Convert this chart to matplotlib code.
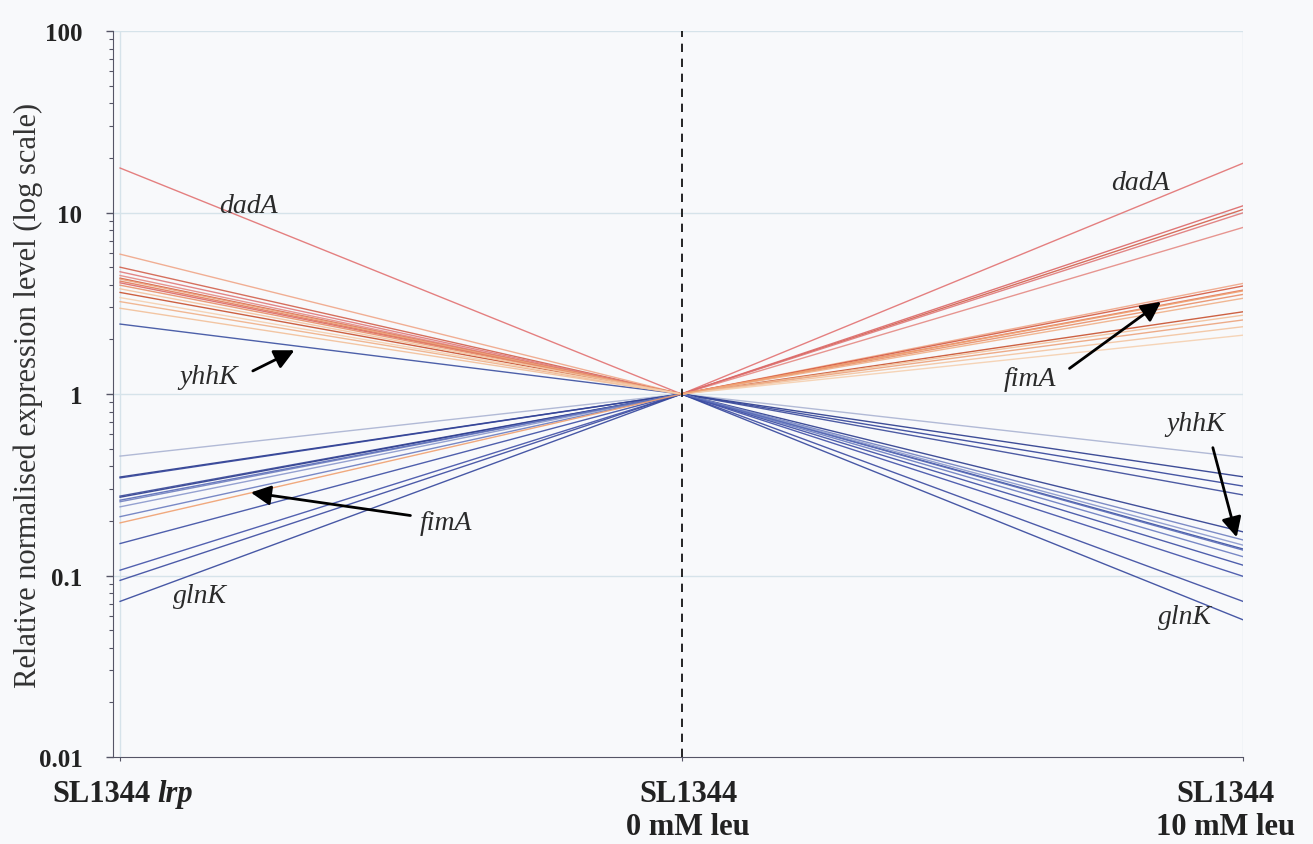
import matplotlib
matplotlib.use("Agg")
import matplotlib.pyplot as plt

# conditions on the x axis
conditions = ["SL1344 lrp", "SL1344\n0 mM leu", "SL1344\n10 mM leu"]

# relative expression (0 mM leu = 1) for each gene
up_lrp = [17.6, 5.0, 4.72, 4.5, 4.1, 5.9, 4.35, 4.19, 3.98, 3.63, 3.23, 2.97, 4.3, 3.8, 3.4, 0.195]
up_leu = [18.7, 10.4, 9.97, 8.28, 10.9, 4.07, 3.94, 3.74, 3.54, 2.84, 3.37, 2.72, 2.56, 2.35, 2.11, 3.7]
up_col = ["#e27272", "#d2604c", "#e07a7a", "#e58a84", "#dc6868", "#f0a688", "#d45a40", "#e27a5a",
          "#e8906a", "#c8502e", "#f0b088", "#f2c09a", "#eca37c", "#f3c4a0", "#f5d0b0", "#f0a070"]

down_lrp = [2.43, 0.455, 0.349, 0.345, 0.274, 0.27, 0.255, 0.239, 0.211, 0.150, 0.107, 0.094, 0.072, 0.26]
down_leu = [0.14, 0.448, 0.35, 0.311, 0.278, 0.174, 0.157, 0.147, 0.127, 0.114, 0.099, 0.072, 0.057, 0.138]
down_col = ["#3a4fa0", "#aab3d2", "#2a3a8c", "#33449a", "#3a4a9a", "#2c3c8e", "#7080c0", "#8a98cc",
            "#6a7cc0", "#3c4ea4", "#4050a8", "#3a4aa0", "#34469c", "#5a6cb8"]

bg = "#f8f9fb"
serif = "Liberation Serif"

fig = plt.figure(figsize=(13.13, 8.45), dpi=100, facecolor=bg)
ax = fig.add_axes([0.0861, 0.103, 0.8606, 0.859], facecolor=bg)

ax.set_yscale("log")
ax.set_ylim(0.01, 100)
ax.set_xlim(-0.0125, 2.0)

# light grid
for v in [0.1, 1, 10, 100]:
    ax.axhline(v, color="#d6e3ea", lw=1, zorder=0)
for xv in [0, 2]:
    ax.axvline(xv, color="#d6e3ea", lw=1, zorder=0)

for a, b, c in zip(down_lrp, down_leu, down_col):
    ax.plot([0, 1, 2], [a, 1, b], color=c, lw=1.0, alpha=0.9, zorder=2)
for a, b, c in zip(up_lrp, up_leu, up_col):
    ax.plot([0, 1, 2], [a, 1, b], color=c, lw=1.0, alpha=0.9, zorder=3)

ax.axvline(1, color="black", lw=1.2, ls=(0, (5, 4)), zorder=4)

# axes styling
for s in ["top", "right"]:
    ax.spines[s].set_visible(False)
ax.spines["left"].set_color("#555566")
ax.spines["bottom"].set_color("#555566")
ax.set_yticks([0.01, 0.1, 1, 10, 100])
ax.set_yticklabels(["0.01", "0.1", "1", "10", "100"], fontfamily=serif,
                   fontweight="bold", fontsize=18, color="#222222")
ax.tick_params(axis="y", which="major", length=5, width=1, color="#555566", pad=17)
ax.tick_params(axis="y", which="minor", length=3, width=0.8, color="#555566")
ax.set_xticks([0, 1, 2])
ax.set_xticklabels(["", "", ""])
ax.tick_params(axis="x", length=3, color="#555566")
ax.set_ylabel("Relative normalised expression level (log scale)", fontfamily=serif,
              fontsize=22, color="#333333")
ax.yaxis.set_label_coords(-0.062, 0.5)

# condition labels
fig.text(52 / 1313, 1 - 795 / 845, "SL1344", fontfamily=serif, fontweight="bold",
         fontsize=22, ha="left", va="center", color="#222222")
fig.text(157 / 1313, 1 - 795 / 845, "lrp", fontfamily=serif, fontweight="bold",
         fontstyle="italic", fontsize=22, ha="left", va="center", color="#222222")
fig.text(688 / 1313, 1 - 780 / 845, conditions[1], fontfamily=serif, fontweight="bold",
         fontsize=22, ha="center", va="top", linespacing=1.2, color="#222222")
fig.text(1226 / 1313, 1 - 780 / 845, conditions[2], fontfamily=serif, fontweight="bold",
         fontsize=22, ha="center", va="top", linespacing=1.2, color="#222222")

# gene annotations
lab = dict(fontfamily=serif, fontstyle="italic", fontsize=20, color="#2a2a2a",
           ha="center", va="center", zorder=6)
arr = dict(arrowstyle="-|>,head_length=1.2,head_width=0.6", color="black", lw=2)

ax.text(0.228, 10.9, "dadA", **lab)
ax.text(0.142, 0.0774, "glnK", **lab)
ax.text(0.157, 1.256, "yhhK", **lab)
ax.annotate("", xy=(0.315, 1.77), xytext=(0.232, 1.32), arrowprops=arr, zorder=6)
ax.text(0.58, 0.197, "fimA", **lab)
ax.annotate("", xy=(0.228, 0.288), xytext=(0.522, 0.213), arrowprops=arr, zorder=6)

ax.text(1.817, 14.7, "dadA", **lab)
ax.text(1.897, 0.0591, "glnK", **lab)
ax.text(1.621, 1.225, "fimA", **lab)
ax.annotate("", xy=(1.858, 3.29), xytext=(1.687, 1.356), arrowprops=arr, zorder=6)
ax.text(1.915, 0.684, "yhhK", **lab)
ax.annotate("", xy=(1.99, 0.157), xytext=(1.945, 0.524), arrowprops=arr, zorder=6)

fig.savefig("out.png", dpi=100, facecolor=bg)
